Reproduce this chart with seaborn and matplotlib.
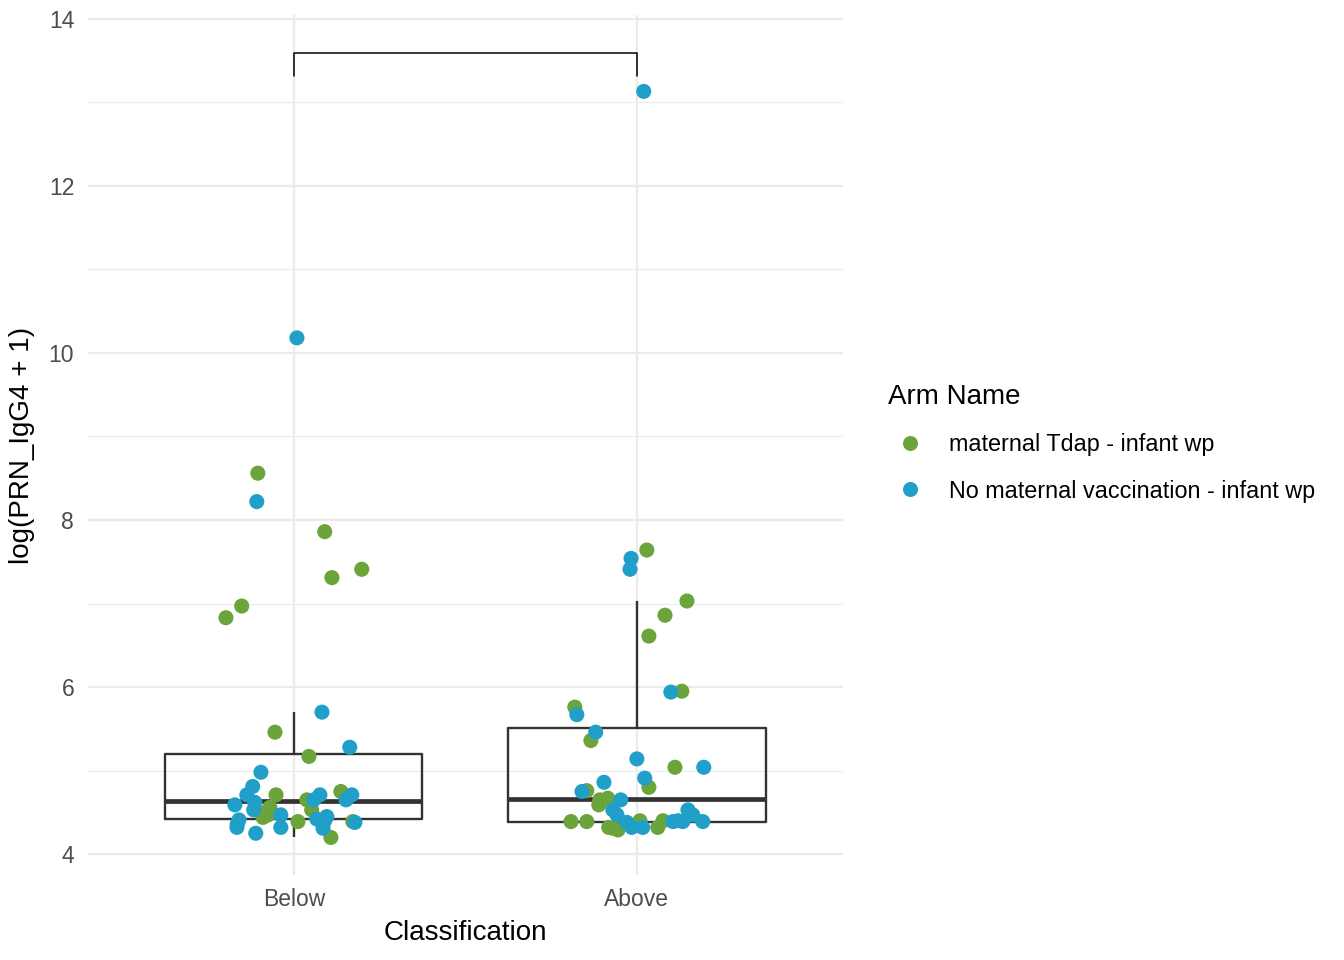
import numpy as np
import pandas as pd
import matplotlib
matplotlib.use("Agg")
import matplotlib.pyplot as plt
from matplotlib.ticker import MultipleLocator
from matplotlib.lines import Line2D
import seaborn as sns

# ===============================
# DATA
# ===============================
categories = ["Below", "Above"]
arms = ["maternal Tdap - infant wp", "No maternal vaccination - infant wp"]
arm_colors = ["#6BA43A", "#20A0C8"]

# Below / maternal Tdap
below_tdap_y = [8.56, 6.83, 6.97, 7.86, 7.31, 7.41, 5.46, 5.17, 4.71, 4.65,
                4.53, 4.50, 4.56, 4.39, 4.20, 4.75, 4.39, 4.47, 4.44]
below_tdap_dx = [-0.105, -0.198, -0.152, 0.090, 0.111, 0.198, -0.055, 0.044, -0.052, 0.038,
                 0.052, -0.085, -0.070, 0.012, 0.108, 0.137, 0.172, -0.075, -0.090]
# Below / no maternal vaccination
below_none_y = [10.18, 8.22, 5.70, 5.28, 4.98, 4.81, 4.71, 4.62, 4.59, 4.53,
                4.41, 4.32, 4.25, 4.47, 4.32, 4.71, 4.65, 4.71, 4.65, 4.45,
                4.42, 4.31, 4.38, 4.40, 4.36]
below_none_dx = [0.009, -0.108, 0.082, 0.163, -0.096, -0.120, -0.137, -0.114, -0.172, -0.117,
                 -0.160, -0.166, -0.111, -0.038, -0.038, 0.076, 0.058, 0.169, 0.152, 0.096,
                 0.067, 0.085, 0.178, 0.090, -0.165]
# Above / maternal Tdap
above_tdap_y = [7.64, 7.03, 6.86, 6.61, 5.95, 5.76, 5.36, 5.04, 4.80, 4.76,
                4.65, 4.67, 4.59, 4.39, 4.39, 4.32, 4.29, 4.40, 4.32, 4.40, 4.31]
above_tdap_dx = [0.029, 0.146, 0.082, 0.035, 0.131, -0.181, -0.134, 0.111, 0.035, -0.146,
                 -0.108, -0.085, -0.111, -0.192, -0.146, -0.082, -0.055, 0.009, 0.061, 0.076, -0.070]
# Above / no maternal vaccination
above_none_y = [13.13, 7.54, 7.41, 5.94, 5.67, 5.46, 5.14, 5.04, 4.91, 4.86,
                4.75, 4.65, 4.53, 4.47, 4.38, 4.32, 4.32, 4.39, 4.39, 4.53,
                4.47, 4.39, 4.40]
above_none_dx = [0.020, -0.017, -0.020, 0.099, -0.175, -0.120, 0.0, 0.195, 0.023, -0.096,
                 -0.160, -0.047, -0.070, -0.058, -0.029, -0.015, 0.017, 0.105, 0.134, 0.149,
                 0.163, 0.192, 0.120]

# significance bracket between the two groups (no label)
bracket_top = 13.59
bracket_bottom = 13.32

# ===============================
# BUILD TABLE
# ===============================
parts = []
for cat, arm, ys, dxs in [
    ("Below", arms[0], below_tdap_y, below_tdap_dx),
    ("Below", arms[1], below_none_y, below_none_dx),
    ("Above", arms[0], above_tdap_y, above_tdap_dx),
    ("Above", arms[1], above_none_y, above_none_dx),
]:
    parts.append(pd.DataFrame({"Classification": cat, "Arm Name": arm,
                               "value": ys, "dx": dxs}))
df = pd.concat(parts, ignore_index=True)
df["xpos"] = df["Classification"].map({c: i for i, c in enumerate(categories)}) + df["dx"]

# ===============================
# PLOT
# ===============================
sns.set_theme(style="white")
plt.rcParams["font.family"] = ["Liberation Sans", "DejaVu Sans"]

fig = plt.figure(figsize=(13.44, 9.6), dpi=100)
ax = fig.add_axes([0.0655, 0.0885, 0.5615, 0.8955])

box_col = "#333333"
sns.boxplot(data=df, x="Classification", y="value", order=categories, ax=ax,
            width=0.75, showfliers=False, showcaps=False, fill=False,
            color=box_col, whis=1.5, linewidth=1.7,
            medianprops=dict(color=box_col, linewidth=3.4))

sns.scatterplot(data=df, x="xpos", y="value", hue="Arm Name", hue_order=arms,
                palette=arm_colors, s=118, linewidth=0, alpha=1, ax=ax,
                legend=False, zorder=3)

ax.plot([0, 0, 1, 1], [bracket_bottom, bracket_top, bracket_top, bracket_bottom],
        color="black", linewidth=1.1, zorder=4)

ax.set_xlim(-0.6, 1.6)
ax.set_ylim(3.75, 14.04)
ax.set_xticks(range(len(categories)))
ax.set_xticklabels(categories)
ax.set_yticks([4, 6, 8, 10, 12, 14])
ax.yaxis.set_minor_locator(MultipleLocator(1))

# theme_minimal style grid
grid_col = "#EBEBEB"
ax.set_axisbelow(True)
ax.xaxis.grid(True, which="major", color=grid_col, linewidth=1.6)
ax.yaxis.grid(True, which="major", color=grid_col, linewidth=1.6)
ax.yaxis.grid(True, which="minor", color=grid_col, linewidth=0.8)

for s in ax.spines.values():
    s.set_visible(False)
ax.tick_params(axis="both", which="both", length=0, labelsize=16.5, labelcolor="#4D4D4D")
ax.tick_params(axis="y", pad=10)
ax.tick_params(axis="x", pad=9)

ax.set_xlabel("Classification", fontsize=20, color="black", labelpad=7)
ax.set_ylabel("log(PRN_IgG4 + 1)", fontsize=20, color="black", labelpad=10)

handles = [Line2D([0], [0], marker="o", linestyle="", markersize=10.8,
                  markerfacecolor=c, markeredgewidth=0) for c in arm_colors]
leg = fig.legend(handles, arms, title="Arm Name", loc="upper left",
                 bbox_to_anchor=(0.6453, 0.622), frameon=False,
                 fontsize=16.8, title_fontsize=20, labelspacing=1.0,
                 handletextpad=0.7, handlelength=1.9, labelcolor="black")
leg.get_title().set_color("black")
leg._legend_box.align = "left"

fig.savefig("out.png", dpi=100)
